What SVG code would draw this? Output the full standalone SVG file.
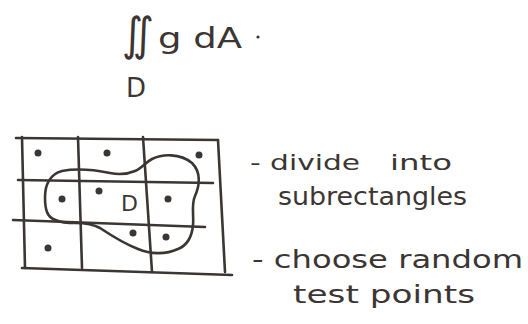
<svg xmlns="http://www.w3.org/2000/svg" width="528" height="324" viewBox="0 0 528 324">
<style>
.ln{fill:none;stroke:#3b3633;stroke-width:2.6;stroke-linecap:round;stroke-linejoin:round}
.dot{fill:#3b3633}
.t{font-family:"DejaVu Sans","Liberation Sans",sans-serif;fill:#3b3633;font-weight:normal}
</style>
<rect width="528" height="324" fill="#ffffff"/>
<g id="formula">
<text class="t" x="122" y="50" font-size="46" textLength="32" lengthAdjust="spacingAndGlyphs">∬</text>
<text class="t" x="158" y="48" font-size="28" textLength="84" lengthAdjust="spacingAndGlyphs">g dA</text>
<circle class="dot" cx="258" cy="37" r="1.6"/>
<text class="t" x="126" y="97" font-size="26">D</text>
</g>
<g id="grid">
<path class="ln" d="M16 138 L218 140"/>
<path class="ln" d="M18 180 L213 183"/>
<path class="ln" d="M13 220 L205 227"/>
<path class="ln" d="M22 268 L232 275"/>
<path class="ln" d="M22 137 L25 268"/>
<path class="ln" d="M78 137 L82 268"/>
<path class="ln" d="M143 137 L152 272"/>
<path class="ln" d="M218 140 L225 272"/>
</g>
<g id="region">
<path class="ln" d="M45 197 C45 185 50 174 62 171 C78 168 95 170 110 173 C120 175 128 174 135 171 C142 168 146 162 152 159 C162 154 180 153 192 163 C201 172 200 185 195 196 C191 205 194 215 193 225 C192 236 188 245 178 249 C165 255 150 254 138 249 C125 244 112 236 100 228 C93 224 85 223 75 223 C62 223 50 221 47 212 C45 207 45 202 45 197 Z"/>
<text class="t" x="121" y="211" font-size="22">D</text>
</g>
<g id="points">
<circle class="dot" cx="38" cy="153" r="3.5"/>
<circle class="dot" cx="107" cy="153" r="3.5"/>
<circle class="dot" cx="199" cy="155" r="3.5"/>
<circle class="dot" cx="62" cy="199" r="3.5"/>
<circle class="dot" cx="99" cy="191" r="3.5"/>
<circle class="dot" cx="168" cy="199" r="3.5"/>
<circle class="dot" cx="133" cy="233" r="3.5"/>
<circle class="dot" cx="166" cy="237" r="3.5"/>
<circle class="dot" cx="48" cy="248" r="3.5"/>
</g>
<g id="notes">
<text class="t" x="250" y="170" font-size="22" textLength="110" lengthAdjust="spacingAndGlyphs">- divide</text>
<text class="t" x="390" y="170" font-size="22" textLength="62" lengthAdjust="spacingAndGlyphs">into</text>
<text class="t" x="278" y="205" font-size="24" textLength="189" lengthAdjust="spacingAndGlyphs">subrectangles</text>
<text class="t" x="252" y="268" font-size="24" textLength="271" lengthAdjust="spacingAndGlyphs">- choose random</text>
<text class="t" x="293" y="303" font-size="24" textLength="182" lengthAdjust="spacingAndGlyphs">test points</text>
</g>
</svg>
